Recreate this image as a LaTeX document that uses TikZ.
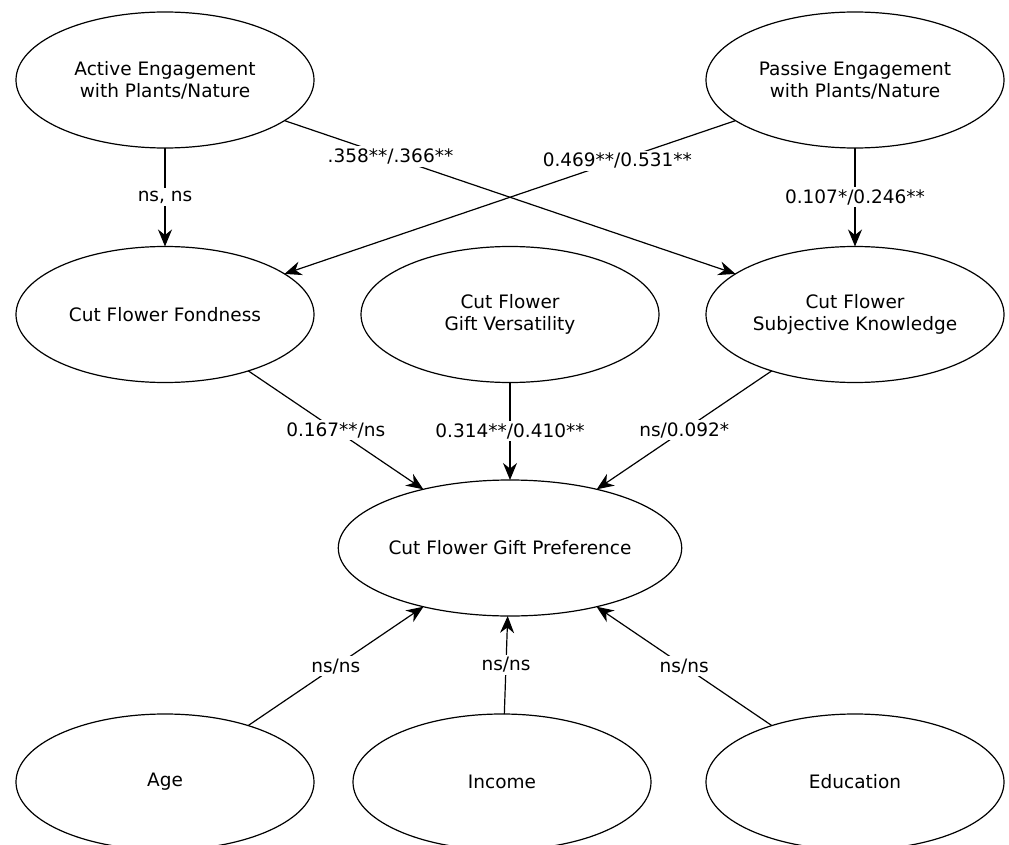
\documentclass[tikz,border=0pt]{standalone}
\usepackage{fontspec}
\setmainfont{DejaVu Sans}
\usetikzlibrary{shapes.geometric,arrows.meta}
\begin{document}
\begin{tikzpicture}[x=1pt,y=-1pt,
  lat/.style={ellipse, draw, line width=1.2pt, minimum width=298pt, minimum height=136pt,
    inner sep=0pt, outer sep=0pt, align=center, font=\fontsize{18.5}{22}\selectfont},
  conn/.style={line width=1.2pt, -{Stealth[length=17pt,width=14pt,inset=5.5pt]}},
  lab/.style={fill=white, inner sep=2.5pt, font=\fontsize{18.5}{22}\selectfont}
]
\useasboundingbox[fill=white] (0,0) rectangle (1009,845);
\node[lat] (act)  at (165,80)    {Active Engagement\\with Plants/Nature};
\node[lat] (pas)  at (855,80)    {Passive Engagement\\with Plants/Nature};
\node[lat] (fond) at (165,314.5) {Cut Flower Fondness};
\node[lat] (vers) at (510,314.5) {Cut Flower\\Gift Versatility};
\node[lat] (know) at (855,314.5) {Cut Flower\\Subjective Knowledge};
\node[lat] (pref) at (510,548)   {Cut Flower Gift Preference};
\node[lat] (age)  at (165,782)   {Age};
\node[lat] (inc)  at (502,782)   {Income};
\node[lat] (edu)  at (855,782)   {Education};

\draw[conn] (act) -- node[lab] {ns, ns} (fond);
\draw[conn] (act) -- node[lab, pos=0.235] {.358**/.366**} (know);
\draw[conn] (pas) -- node[lab, pos=0.262] {0.469**/0.531**} (fond);
\draw[conn] (pas) -- node[lab] {0.107*/0.246**} (know);
\draw[conn] (fond) -- node[lab] {0.167**/ns} (pref);
\draw[conn] (vers) -- node[lab] {0.314**/0.410**} (pref);
\draw[conn] (know) -- node[lab] {ns/0.092*} (pref);
\draw[conn] (age) -- node[lab] {ns/ns} (pref);
\draw[conn] (inc) -- node[lab] {ns/ns} (pref);
\draw[conn] (edu) -- node[lab] {ns/ns} (pref);
\end{tikzpicture}
\end{document}
